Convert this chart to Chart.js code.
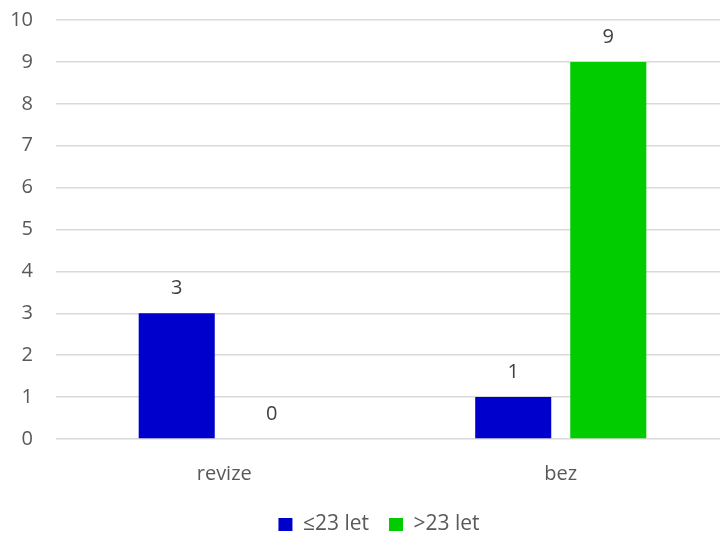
<!DOCTYPE html>
<html>
<head>
<meta charset="utf-8">
<script src="https://cdn.jsdelivr.net/npm/chart.js@4.4.1/dist/chart.umd.min.js"></script>
<style>
  html, body { margin: 0; padding: 0; background: #fff; overflow: hidden; }
  #chart { display: block; }
</style>
</head>
<body>
<canvas id="chart" width="758" height="545"></canvas>
<script>
// ── Data ──────────────────────────────────────────────
const categories = ['revize', 'bez'];
const seriesNames = ['≤23 let', '>23 let'];
const young = [3, 1];
const older = [0, 9];
const yTicks = [0, 1, 2, 3, 4, 5, 6, 7, 8, 9, 10];

const FONT = '"Open Sans", "Noto Sans", sans-serif';
const AXIS_COLOR = '#595959';

// Value labels above each bar
const valueLabels = {
    id: 'valueLabels',
    afterDatasetsDraw(chart) {
        const { ctx } = chart;
        ctx.save();
        ctx.font = '20px ' + FONT;
        ctx.fillStyle = '#404040';
        ctx.textAlign = 'center';
        ctx.textBaseline = 'middle';
        chart.data.datasets.forEach((ds, di) => {
            const meta = chart.getDatasetMeta(di);
            meta.data.forEach((bar, i) => {
                ctx.fillText(String(ds.data[i]), bar.x, bar.y - 25);
            });
        });
        ctx.restore();
    }
};

new Chart(document.getElementById('chart'), {
    type: 'bar',
    data: {
        labels: categories,
        datasets: [
            { label: seriesNames[0], data: young, backgroundColor: '#0000CC', yAxisID: 'y' },
            { label: seriesNames[1], data: older, backgroundColor: '#00CC00', yAxisID: 'y' }
        ]
    },
    options: {
        responsive: false,
        animation: false,
        devicePixelRatio: 1,
        categoryPercentage: 0.565,
        barPercentage: 0.8,
        layout: { padding: { left: 0, right: 0, top: 20, bottom: 0 } },
        plugins: {
            legend: {
                position: 'bottom',
                labels: {
                    boxWidth: 14, boxHeight: 13, padding: 20,
                    color: AXIS_COLOR, font: { size: 21, family: FONT }
                }
            },
            tooltip: { enabled: false }
        },
        scales: {
            x: {
                grid: { display: false },
                border: { display: false },
                afterFit: s => { s.height = 55; },
                ticks: { color: AXIS_COLOR, padding: 15, font: { size: 20, family: FONT } }
            },
            y: {
                min: 0, max: 10,
                afterBuildTicks: s => { s.ticks = yTicks.map(v => ({ value: v })); },
                afterFit: s => { s.width = 56; s.paddingTop = 0; s.paddingBottom = 0; },
                grid: { color: '#d9d9d9', lineWidth: 1.5, drawTicks: false },
                border: { display: false },
                ticks: { color: AXIS_COLOR, padding: 23, font: { size: 20, family: FONT } }
            },
            // empty right-hand gutter, keeps the legend centred like the original
            gutter: {
                position: 'right',
                grid: { display: false },
                border: { display: false },
                ticks: { display: false },
                afterFit: s => { s.width = 29; }
            }
        }
    },
    plugins: [valueLabels]
});
</script>
</body>
</html>
